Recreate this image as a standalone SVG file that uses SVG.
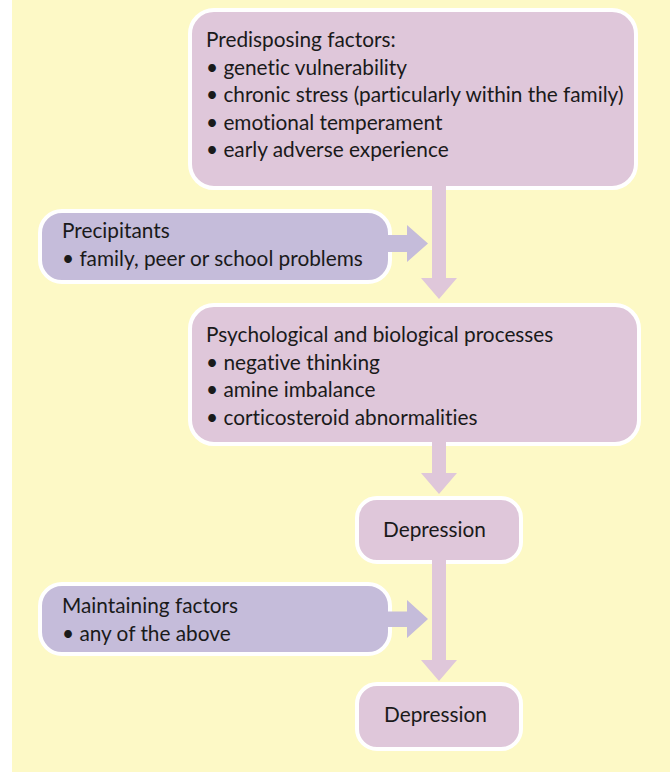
<svg xmlns="http://www.w3.org/2000/svg" width="670" height="772" viewBox="0 0 670 772">
<style>
.bg{fill:#FDF9C6}
.box{fill:#DFC7DA;stroke:#FFFFFF;stroke-width:4}
.box2{fill:#C5BCDA;stroke:#FFFFFF;stroke-width:4}
.arrV{fill:#DFC7DA}
.arrH{fill:#C5BCDA}
text{font-family:Lato,"Liberation Sans",sans-serif;font-size:20.8px;fill:#1A1A1A;font-variant-ligatures:none}
</style>
<rect class="bg" x="12" y="0" width="658" height="772"/>
<g id="node-predisposing">
<rect class="box" x="190" y="10" width="446" height="178" rx="24"/>
<text x="206" y="47">Predisposing factors:</text>
<text x="206" y="74.5">• genetic vulnerability</text>
<text x="206" y="102">• chronic stress (particularly within the family)</text>
<text x="206" y="129.5">• emotional temperament</text>
<text x="206" y="157">• early adverse experience</text>
</g>
<g id="node-precipitants">
<rect class="box2" x="40" y="211" width="350" height="71" rx="22"/>
<text x="62" y="238">Precipitants</text>
<text x="62" y="266">• family, peer or school problems</text>
</g>
<g id="node-processes">
<rect class="box" x="190" y="305" width="449" height="139" rx="24"/>
<text x="206" y="342">Psychological and biological processes</text>
<text x="206" y="369.5">• negative thinking</text>
<text x="206" y="397">• amine imbalance</text>
<text x="206" y="424.5">• corticosteroid abnormalities</text>
</g>
<g id="node-depression1">
<rect class="box" x="357" y="498" width="164" height="64" rx="20"/>
<text x="383" y="537">Depression</text>
</g>
<g id="node-maintaining">
<rect class="box2" x="40" y="584" width="350" height="70" rx="22"/>
<text x="62" y="613">Maintaining factors</text>
<text x="62" y="641">• any of the above</text>
</g>
<g id="node-depression2">
<rect class="box" x="357" y="684" width="164" height="65" rx="20"/>
<text x="384" y="722">Depression</text>
</g>
<g id="connectors">
<polygon class="arrV" points="432,186 446,186 446,278 457,278 439,299 421,278 432,278"/>
<polygon class="arrH" points="388,235 407,235 407,225 428,243.5 407,262 407,252 388,252"/>
<polygon class="arrV" points="432,442 446,442 446,473 457,473 439,494 421,473 432,473"/>
<polygon class="arrV" points="432,560 446,560 446,660 457,660 439,681 421,660 432,660"/>
<polygon class="arrH" points="388,611.5 407,611.5 407,600 428,619 407,638 407,627 388,627"/>
</g>
</svg>
